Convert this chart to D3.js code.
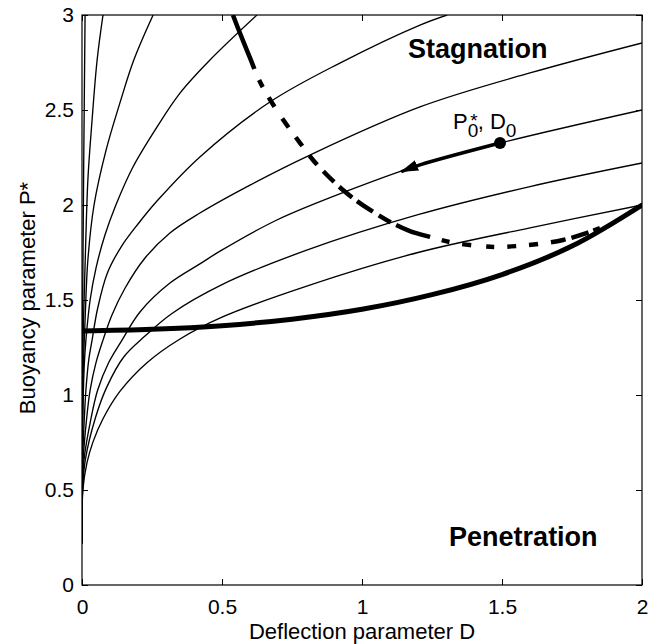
<!DOCTYPE html>
<html>
<head>
<meta charset="utf-8">
<script src="https://cdn.jsdelivr.net/npm/d3@7"></script>
<style>
  body { margin: 0; background: #fff; }
  text { font-family: "Liberation Sans", Arial, Helvetica, sans-serif; }
</style>
</head>
<body>
<div id="chart"></div>
<script>

// values, each point is [D, P*]
var curve1 = [[0,0.22],[0.001,1.0],[0.003,1.6],[0.006,2.2],[0.011,3.0]];
var curve2 = [[0,0.22],[0.001,0.8],[0.004,1.3],[0.0125,1.763],[0.021,2.132],[0.036,2.447],[0.054,2.763],[0.075,3.0]];
var curve3 = [[0,0.22],[0.0005,0.6],[0.002,0.9],[0.005,1.15],[0.011,1.395],[0.021,1.711],[0.043,2.0],[0.086,2.289],[0.136,2.54],[0.185,2.763],[0.254,3.0]];
var curve4 = [[0,0.22],[0.0005,0.5],[0.001,0.658],[0.003,0.868],[0.005,1.026],[0.009,1.184],[0.014,1.289],[0.029,1.5],[0.05,1.668],[0.082,1.842],[0.121,2.0],[0.182,2.2],[0.268,2.411],[0.35,2.589],[0.457,2.763],[0.625,3.0]];
var curve5 = [[0,0.22],[0.001,0.5],[0.002,0.658],[0.008,0.868],[0.014,1.026],[0.024,1.184],[0.036,1.289],[0.055,1.45],[0.09,1.64],[0.14,1.78],[0.2,1.9],[0.271,2.026],[0.421,2.253],[0.671,2.542],[0.921,2.747],[1.207,2.947],[1.304,3.0]];
var curve6 = [[0,0.22],[0.001,0.5],[0.004,0.658],[0.016,0.868],[0.029,1.026],[0.05,1.17],[0.075,1.289],[0.107,1.421],[0.154,1.563],[0.225,1.721],[0.314,1.853],[0.421,1.958],[0.6,2.105],[0.814,2.263],[1.207,2.516],[1.6,2.695],[2.0,2.853]];
var curve7 = [[0,0.22],[0.002,0.5],[0.007,0.658],[0.031,0.868],[0.056,1.026],[0.095,1.17],[0.143,1.289],[0.207,1.437],[0.314,1.589],[0.421,1.69],[0.493,1.757],[0.696,1.921],[0.957,2.079],[1.207,2.211],[1.493,2.326],[2.0,2.5]];
var curve8 = [[0,0.22],[0.002,0.5],[0.012,0.66],[0.048,0.88],[0.088,1.04],[0.149,1.2],[0.225,1.31],[0.32,1.428],[0.5,1.581],[0.8,1.761],[1.2,1.949],[1.6,2.097],[2.0,2.221]];
var curve9 = [[0,0.22],[0.003,0.5],[0.018,0.645],[0.039,0.752],[0.075,0.875],[0.136,1.02],[0.232,1.17],[0.35,1.295],[0.5,1.41],[0.8,1.572],[1.2,1.75],[1.6,1.88],[2.0,2.0]];
var trajectories = [curve1, curve2, curve3, curve4, curve5, curve6, curve7, curve8, curve9];

// thick boundary curve
var boundary = [[0,1.337],[0.25,1.346],[0.5,1.365],[0.75,1.399],[1.0,1.451],[1.25,1.528],[1.5,1.634],[1.75,1.784],[2.0,2.0]];

// dashed / dotted curve
var stagnationLine = [[0.539,3.0],[0.564,2.905],[0.6,2.774],[0.636,2.647],[0.679,2.537],[0.729,2.426],[0.779,2.326],[0.825,2.237],[0.875,2.158],[0.932,2.079],[0.982,2.021],[1.046,1.958],[1.1,1.911],[1.171,1.863],[1.243,1.832],[1.314,1.805],[1.386,1.789],[1.475,1.779],[1.554,1.784],[1.629,1.795],[1.718,1.816],[1.804,1.853],[1.85,1.879]];

var startPoint = [1.493, 2.326];
var arrowTip = [1.14, 2.175];

var xTicks = [0, 0.5, 1, 1.5, 2];
var xTickLabels = ["0", "0.5", "1", "1.5", "2"];
var yTicks = [0, 0.5, 1, 1.5, 2, 2.5, 3];
var yTickLabels = ["0", "0.5", "1", "1.5", "2", "2.5", "3"];

// set the dimensions and margins of the graph
var margin = {top: 15, right: 16, bottom: 59, left: 82},
    width = 658 - margin.left - margin.right,
    height = 644 - margin.top - margin.bottom;

var fontFam = '"Liberation Sans", Arial, Helvetica, sans-serif';

var root = d3.select("#chart")
  .append("svg")
    .attr("width", width + margin.left + margin.right)
    .attr("height", height + margin.top + margin.bottom)
    .style("background", "#fff");

var svg = root.append("g")
    .attr("transform", "translate(" + margin.left + "," + margin.top + ")");

var x = d3.scaleLinear().domain([0, 2]).range([0, width]);
var y = d3.scaleLinear().domain([0, 3]).range([height, 0]);

var defs = svg.append("defs");
defs.append("clipPath")
    .attr("id", "clip")
  .append("rect")
    .attr("width", width)
    .attr("height", height);

defs.append("marker")
    .attr("id", "arrow")
    .attr("markerUnits", "userSpaceOnUse")
    .attr("viewBox", "0 -6 18 12")
    .attr("markerWidth", 18)
    .attr("markerHeight", 12)
    .attr("refX", 17)
    .attr("refY", 0)
    .attr("orient", "auto")
  .append("path")
    .attr("d", "M0,-5.5L18,0L0,5.5Z")
    .attr("fill", "#000");

var line = d3.line()
    .x(function(d) { return x(d[0]); })
    .y(function(d) { return y(d[1]); })
    .curve(d3.curveCatmullRom.alpha(0.5));

var plot = svg.append("g").attr("clip-path", "url(#clip)");

// thin trajectories
plot.selectAll(".traj")
  .data(trajectories)
  .enter().append("path")
    .attr("class", "traj")
    .attr("d", line)
    .attr("fill", "none")
    .attr("stroke", "#000")
    .attr("stroke-width", 1.35);

// thick boundary
plot.append("path")
    .datum(boundary)
    .attr("d", line)
    .attr("fill", "none")
    .attr("stroke", "#000")
    .attr("stroke-width", 5)
    .attr("stroke-linecap", "round");

// dashed then dotted curve
plot.append("path")
    .datum(stagnationLine)
    .attr("d", line)
    .attr("fill", "none")
    .attr("stroke", "#000")
    .attr("stroke-width", 4.5)
    .attr("stroke-dasharray", "58,12,8,12,11,14,11,12,11,12,12,9,15,7,17,6,19,7,14,6,36,12,8,13,9,15,8,13,9,13,9,13,15,6,18,5,300");

// thick segment with arrow from the start point
var segment = [startPoint].concat(curve7.filter(function(d) {
  return d[0] > arrowTip[0] && d[0] < startPoint[0];
}).reverse()).concat([arrowTip]);

svg.append("path")
    .datum(segment)
    .attr("d", line)
    .attr("fill", "none")
    .attr("stroke", "#000")
    .attr("stroke-width", 3.5)
    .attr("marker-end", "url(#arrow)");

svg.append("circle")
    .attr("cx", x(startPoint[0]))
    .attr("cy", y(startPoint[1]))
    .attr("r", 6)
    .attr("fill", "#000");

// axes, ticks inward on all four sides
function styleAxis(g) {
  g.select(".domain").remove();
  g.selectAll("line").attr("stroke", "#000").attr("stroke-width", 1);
  g.selectAll("text").attr("fill", "#000");
  g.attr("font-family", fontFam).attr("font-size", 21);
}

svg.append("g")
    .attr("transform", "translate(0," + height + ")")
    .call(d3.axisBottom(x).tickValues(xTicks).tickSizeInner(-6).tickSizeOuter(0).tickPadding(14)
      .tickFormat(function(d, i) { return xTickLabels[i]; }))
    .call(styleAxis);

svg.append("g")
    .call(d3.axisTop(x).tickValues(xTicks).tickSizeInner(-6).tickSizeOuter(0).tickFormat(""))
    .call(styleAxis);

svg.append("g")
    .call(d3.axisLeft(y).tickValues(yTicks).tickSizeInner(-6).tickSizeOuter(0).tickPadding(8)
      .tickFormat(function(d, i) { return yTickLabels[i]; }))
    .call(styleAxis);

svg.append("g")
    .attr("transform", "translate(" + width + ",0)")
    .call(d3.axisRight(y).tickValues(yTicks).tickSizeInner(-6).tickSizeOuter(0).tickFormat(""))
    .call(styleAxis);

svg.append("rect")
    .attr("width", width)
    .attr("height", height)
    .attr("fill", "none")
    .attr("stroke", "#000")
    .attr("stroke-width", 1.2);

// axis titles
svg.append("text")
    .attr("x", width / 2)
    .attr("y", height + 54)
    .attr("text-anchor", "middle")
    .attr("font-size", 22)
    .text("Deflection parameter D");

svg.append("text")
    .attr("transform", "translate(-47," + (height / 2 - 2) + ") rotate(-90)")
    .attr("text-anchor", "middle")
    .attr("font-size", 22)
    .text("Buoyancy parameter P*");

// region labels
svg.append("text")
    .attr("x", x(1.164))
    .attr("y", y(2.774))
    .attr("font-size", 27)
    .attr("font-weight", "bold")
    .text("Stagnation");

svg.append("text")
    .attr("x", x(1.311))
    .attr("y", y(0.205))
    .attr("font-size", 27)
    .attr("font-weight", "bold")
    .text("Penetration");

// start point label P0*, D0 (asterisk stacked over the subscript)
var lbl = svg.append("text")
    .attr("x", x(1.325))
    .attr("y", y(2.4))
    .attr("font-size", 22);
lbl.append("tspan").text("P");
lbl.append("tspan").attr("font-size", 19).attr("dy", 8).text("0");
lbl.append("tspan").attr("font-size", 19).attr("dx", -8).attr("dy", -10).text("*");
lbl.append("tspan").attr("dy", 2).text(", D");
lbl.append("tspan").attr("font-size", 19).attr("dy", 8).text("0");

</script>
</body>
</html>
